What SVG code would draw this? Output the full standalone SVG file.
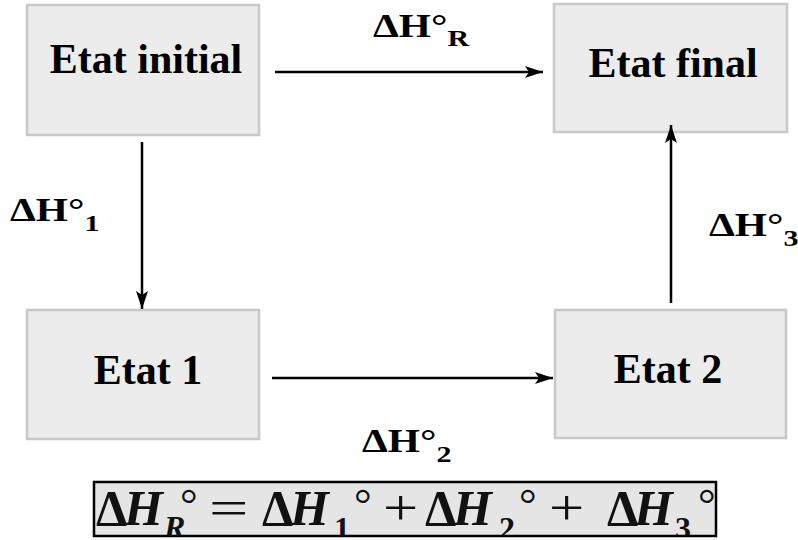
<svg xmlns="http://www.w3.org/2000/svg" width="798" height="540" viewBox="0 0 798 540">
  <style>
    text { font-family: "Liberation Serif", "Times New Roman", serif; fill: #000; }
    .box { fill: #ececec; stroke: #c8c8c8; stroke-width: 2.5; }
    .lbl { font-weight: bold; font-size: 42px; text-anchor: middle; }
    .dh { font-weight: bold; font-size: 33px; }
    .sub { font-size: 24px; }
    .edge { stroke: #000; stroke-width: 2.5; fill: none; marker-end: url(#arrow); }
    .eq { font-size: 50px; fill: #111; }
    .up { font-weight: bold; }
    .it { font-weight: bold; font-style: italic; }
    .es { font-size: 32px; font-weight: bold; }
    .deg { font-size: 44px; }
  </style>
  <defs>
    <marker id="arrow" markerUnits="userSpaceOnUse" markerWidth="20" markerHeight="12" refX="18" refY="6" orient="auto">
      <path d="M0,0 L18,6 L0,12 L4,6 z" fill="#000"/>
    </marker>
    <clipPath id="eqclip">
      <rect x="94" y="482" width="622" height="54"/>
    </clipPath>
  </defs>

  <rect width="798" height="540" fill="#fff"/>

  <!-- state boxes -->
  <g id="etat-initial">
    <rect class="box" x="27" y="5" width="232" height="130"/>
    <text class="lbl" x="146" y="73">Etat initial</text>
  </g>
  <g id="etat-final">
    <rect class="box" x="554" y="4" width="233" height="128"/>
    <text class="lbl" x="673" y="77">Etat final</text>
  </g>
  <g id="etat-1">
    <rect class="box" x="27" y="310" width="232" height="129"/>
    <text class="lbl" x="148" y="384">Etat 1</text>
  </g>
  <g id="etat-2">
    <rect class="box" x="555" y="310" width="231" height="128"/>
    <text class="lbl" x="668" y="383">Etat 2</text>
  </g>

  <!-- enthalpy path arrows -->
  <g id="connectors">
    <line class="edge" x1="275" y1="72" x2="543" y2="72"/>
    <line class="edge" x1="142" y1="142" x2="142" y2="309"/>
    <line class="edge" x1="272" y1="378" x2="553" y2="378"/>
    <line class="edge" x1="671" y1="303" x2="671" y2="125"/>
  </g>

  <!-- arrow labels -->
  <g id="labels">
    <text class="dh" transform="translate(373,37) scale(1.25,1)">ΔH°<tspan class="sub" dy="9">R</tspan></text>
    <text class="dh" transform="translate(10,221) scale(1.25,1)">ΔH°<tspan class="sub" dy="10">1</tspan></text>
    <text class="dh" transform="translate(709,236) scale(1.25,1)">ΔH°<tspan class="sub" dy="10">3</tspan></text>
    <text class="dh" transform="translate(362,452) scale(1.25,1)">ΔH°<tspan class="sub" dy="10">2</tspan></text>
  </g>

  <!-- Hess's law summary -->
  <g id="equation">
    <rect x="94" y="482" width="622" height="54" fill="#e5e5e5" stroke="#000" stroke-width="2.5"/>
    <g clip-path="url(#eqclip)">
      <text class="eq up" x="96" y="525">Δ</text>
      <text class="eq it" x="124" y="525">H</text>
      <text class="eq es it" x="164" y="538">R</text>
      <text class="eq deg" x="180" y="519">°</text>
      <text class="eq" transform="translate(209,525) scale(1.4,1)">=</text>

      <text class="eq up" x="262" y="525">Δ</text>
      <text class="eq it" x="290" y="525">H</text>
      <text class="eq es" x="334" y="539">1</text>
      <text class="eq deg" x="354" y="519">°</text>
      <text class="eq" transform="translate(383,525) scale(1.25,1)">+</text>

      <text class="eq up" x="425" y="525">Δ</text>
      <text class="eq it" x="453" y="525">H</text>
      <text class="eq es" x="499" y="539">2</text>
      <text class="eq deg" x="519" y="519">°</text>
      <text class="eq" transform="translate(549,525) scale(1.25,1)">+</text>

      <text class="eq up" x="607" y="525">Δ</text>
      <text class="eq it" x="634" y="525">H</text>
      <text class="eq es" x="675" y="539">3</text>
      <text class="eq deg" x="698" y="519">°</text>
    </g>
  </g>
</svg>
